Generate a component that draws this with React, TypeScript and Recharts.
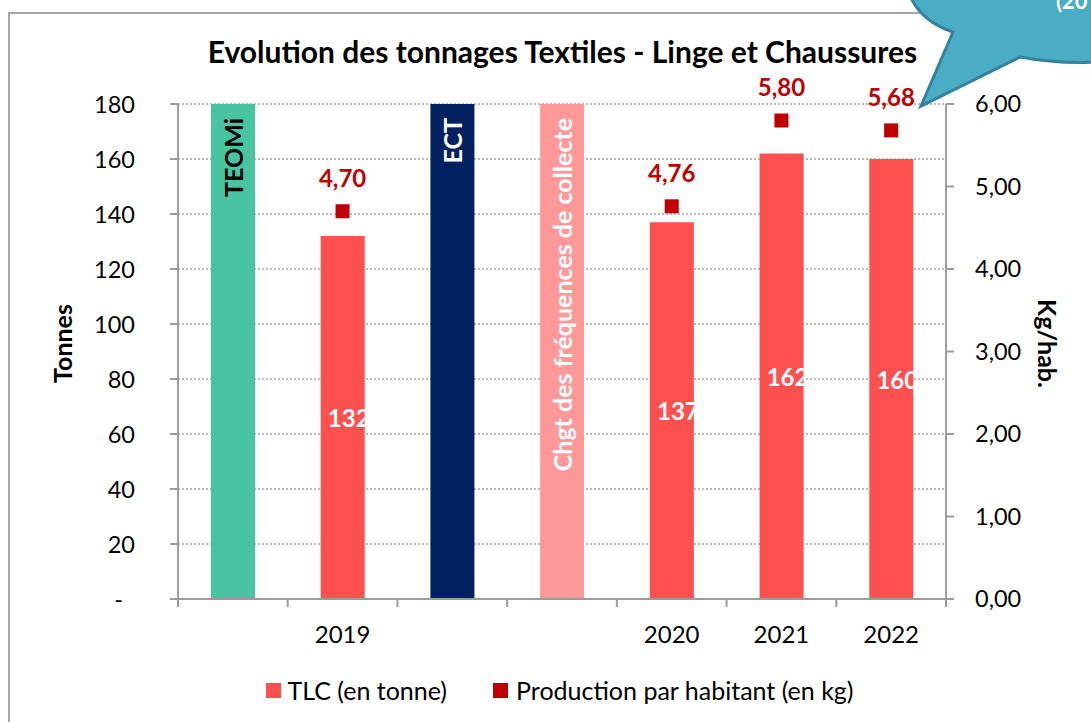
import React from "react";
import {
  ComposedChart,
  Bar,
  Line,
  XAxis,
  YAxis,
  CartesianGrid,
  Legend,
  LabelList,
  Cell,
  Label,
} from "recharts";

const FONT = "Lato, 'Open Sans', sans-serif";

// one slot per column of the chart (events + years)
const slots = ["teomi", "y2019", "ect", "chgt", "y2020", "y2021", "y2022"];
const yearLabels = ["", "2019", "", "", "2020", "2021", "2022"];
const eventNotes = ["TEOMi", "", "ECT", "Chgt des fréquences de collecte", "", "", ""];
const tonnes = [180, 132, 180, 180, 137, 162, 160];
const kgPerHab: (number | null)[] = [null, 4.7, null, null, 4.76, 5.8, 5.68];

const tonneTicks = [0, 20, 40, 60, 80, 100, 120, 140, 160, 180];
const kgTicks = [0, 1, 2, 3, 4, 5, 6];

const barColors = ["#48C4A3", "#FF5050", "#002060", "#FF9999", "#FF5050", "#FF5050", "#FF5050"];
const noteColors = ["#000000", "", "#FFFFFF", "#FFFFFF", "", "", ""];

const TLC_RED = "#FF5050";
const KG_RED = "#C00000";
const AXIS_GREY = "#9C9C9C";
const TICK_SIZE = 23.5;

const data = slots.map((slot, i) => ({
  slot,
  year: yearLabels[i],
  note: eventNotes[i],
  tlc: tonnes[i],
  kg: kgPerHab[i],
}));

const frNum = (v: number) => v.toFixed(2).replace(".", ",");

const X_TICK_MARGIN = 34;

const YearTick = (props: any) => {
  const { x, y, payload, index } = props;
  const half = payload?.offset || 55;
  const axisY = y - X_TICK_MARGIN;
  const last = index === slots.length - 1;
  return (
    <g>
      <line x1={x - half} x2={x - half} y1={axisY} y2={axisY + 8} stroke={AXIS_GREY} strokeWidth={2} />
      {last && (
        <line x1={x + half} x2={x + half} y1={axisY} y2={axisY + 8} stroke={AXIS_GREY} strokeWidth={2} />
      )}
      <text
        x={x}
        y={y}
        textAnchor="middle"
        dominantBaseline="central"
        fontFamily={FONT}
        fontSize={24}
        fill="#000"
      >
        {yearLabels[index]}
      </text>
    </g>
  );
};

const TonneTick = (props: any) => {
  const { x, y, payload } = props;
  const zero = payload.value === 0;
  return (
    <text
      x={zero ? x - 12 : x}
      y={y}
      textAnchor="end"
      dominantBaseline="central"
      fontFamily={FONT}
      fontSize={TICK_SIZE}
      fill="#000"
    >
      {zero ? "-" : payload.value}
    </text>
  );
};

const BarText = (props: any) => {
  const { x, y, width, height, value, index } = props;
  const note = eventNotes[index];
  const cx = x + width / 2;
  if (note) {
    const ty = y + 14;
    return (
      <text
        x={cx}
        y={ty}
        transform={`rotate(-90 ${cx} ${ty})`}
        textAnchor="end"
        dominantBaseline="central"
        fontFamily={FONT}
        fontWeight={700}
        fontSize={25}
        fill={noteColors[index]}
      >
        {note}
      </text>
    );
  }
  const clipId = `barclip-${index}`;
  return (
    <g>
      <defs>
        <clipPath id={clipId}>
          <rect x={x} y={y} width={width} height={height} />
        </clipPath>
      </defs>
      <text
        x={cx + 6}
        y={y + height / 2}
        textAnchor="middle"
        dominantBaseline="central"
        fontFamily={FONT}
        fontWeight={700}
        fontSize={24}
        fill="#FFFFFF"
        clipPath={`url(#${clipId})`}
      >
        {value}
      </text>
    </g>
  );
};

const SquareDot = (props: any) => {
  const { cx, cy, value, index } = props;
  if (value == null || cy == null || isNaN(cy)) return <g key={`sq-${index}`} />;
  return <rect key={`sq-${index}`} x={cx - 7} y={cy - 7} width={14} height={14} fill={KG_RED} />;
};

const KgText = (props: any) => {
  const { x, y, value } = props;
  if (value == null || y == null || isNaN(y)) return null;
  return (
    <text
      x={x}
      y={y - 34}
      textAnchor="middle"
      dominantBaseline="central"
      fontFamily={FONT}
      fontWeight={700}
      fontSize={24}
      fill={KG_RED}
    >
      {frNum(value)}
    </text>
  );
};

const LegendBox = () => (
  <div
    style={{
      display: "flex",
      justifyContent: "center",
      alignItems: "center",
      height: 30,
      fontFamily: FONT,
      fontSize: 25,
      color: "#000",
      paddingRight: 14,
    }}
  >
    <span style={{ display: "flex", alignItems: "center", marginRight: 46 }}>
      <span style={{ width: 15, height: 15, background: TLC_RED, marginRight: 6, display: "inline-block" }} />
      TLC (en tonne)
    </span>
    <span style={{ display: "flex", alignItems: "center" }}>
      <span style={{ width: 15, height: 15, background: KG_RED, marginRight: 8, display: "inline-block" }} />
      Production par habitant (en kg)
    </span>
  </div>
);

const AxisTitle = ({ viewBox, text, dx, angle }: any) => {
  const cx = viewBox.x + dx;
  const cy = viewBox.y + viewBox.height / 2 - 8;
  return (
    <text
      x={cx}
      y={cy}
      transform={`rotate(${angle} ${cx} ${cy})`}
      textAnchor="middle"
      dominantBaseline="central"
      fontFamily={FONT}
      fontWeight={700}
      fontSize={25}
      fill="#000"
    >
      {text}
    </text>
  );
};

export default function App() {
  return (
    <div
      style={{
        position: "absolute",
        left: 0,
        top: 0,
        width: 1091,
        height: 722,
        overflow: "hidden",
        background: "#fff",
      }}
    >
      <div
        style={{
          position: "absolute",
          left: 8,
          top: 12,
          width: 1200,
          height: 800,
          border: "2px solid #A6A6A6",
        }}
      />
      <div
        style={{
          position: "absolute",
          left: 0,
          width: 1125,
          top: 33,
          textAlign: "center",
          fontFamily: FONT,
          fontWeight: 700,
          fontSize: 30,
          color: "#000",
        }}
      >
        Evolution des tonnages Textiles - Linge et Chaussures
      </div>
      <div style={{ position: "absolute", left: 0, top: 0 }}>
        <ComposedChart
          width={1091}
          height={722}
          data={data}
          margin={{ top: 104, right: 75, left: 118, bottom: 17 }}
        >
          <CartesianGrid
            yAxisId="left"
            vertical={false}
            stroke="#A6A6A6"
            strokeDasharray="2 2"
            strokeWidth={1.5}
          />
          <XAxis
            dataKey="slot"
            interval={0}
            height={76}
            tickLine={false}
            tickSize={0}
            tickMargin={X_TICK_MARGIN}
            axisLine={{ stroke: AXIS_GREY, strokeWidth: 2 }}
            tick={<YearTick />}
          />
          <YAxis
            yAxisId="left"
            width={60}
            domain={[0, 180]}
            ticks={tonneTicks}
            interval={0}
            tickSize={8}
            tickMargin={35}
            axisLine={{ stroke: AXIS_GREY, strokeWidth: 2 }}
            tickLine={{ stroke: AXIS_GREY, strokeWidth: 2 }}
            tick={<TonneTick />}
          >
            <Label content={(p: any) => <AxisTitle {...p} text="Tonnes" dx={-56} angle={-90} />} />
          </YAxis>
          <YAxis
            yAxisId="right"
            orientation="right"
            width={70}
            domain={[0, 6]}
            ticks={kgTicks}
            interval={0}
            tickSize={8}
            tickMargin={21}
            tickFormatter={frNum}
            axisLine={{ stroke: AXIS_GREY, strokeWidth: 2 }}
            tickLine={{ stroke: AXIS_GREY, strokeWidth: 2 }}
            tick={{ fontFamily: FONT, fontSize: TICK_SIZE, fill: "#000" }}
          >
            <Label content={(p: any) => <AxisTitle {...p} text="Kg/hab." dx={102} angle={90} />} />
          </YAxis>
          <Bar yAxisId="left" dataKey="tlc" barSize={44} isAnimationActive={false}>
            {data.map((d, i) => (
              <Cell key={d.slot} fill={barColors[i]} />
            ))}
            <LabelList dataKey="tlc" content={<BarText />} />
          </Bar>
          <Line
            yAxisId="right"
            dataKey="kg"
            stroke="none"
            dot={SquareDot}
            activeDot={false}
            isAnimationActive={false}
          >
            <LabelList dataKey="kg" content={<KgText />} />
          </Line>
          <Legend verticalAlign="bottom" content={<LegendBox />} />
        </ComposedChart>
      </div>
      <svg
        width={1091}
        height={722}
        style={{ position: "absolute", left: 0, top: 0, pointerEvents: "none" }}
      >
        <path
          d="M 910 -4 Q 922 22 953 32 L 921 106 L 1020 57 Q 1058 64 1095 62 L 1095 -4 Z"
          fill="#4BACC6"
          stroke="#31849B"
          strokeWidth={3}
          strokeLinejoin="miter"
        />
        <text x={1056} y={9} fontFamily={FONT} fontWeight={700} fontSize={22} fill="#FFFFFF">
          (20
        </text>
      </svg>
    </div>
  );
}
